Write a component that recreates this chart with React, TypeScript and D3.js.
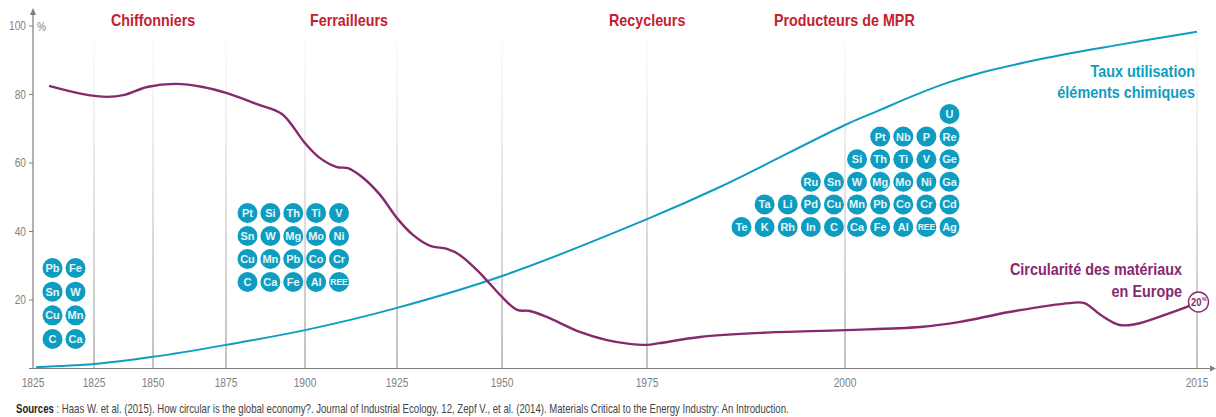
import React from "react";
import * as d3 from "d3";

const W = 1216, H = 417;

// Axis stops: the source's time axis is uneven and its first two ticks both read 1825
const tickYears = [1800, 1825, 1850, 1875, 1900, 1925, 1950, 1975, 2000, 2015];
const tickLabels = ["1825", "1825", "1850", "1875", "1900", "1925", "1950", "1975", "2000", "2015"];
const tickPixels = [33, 94, 153, 226, 305, 397, 502, 647, 845, 1197];
const yTicks = [20, 40, 60, 80, 100];

const circYears = [1806.6, 1820.5, 1830.5, 1838, 1847.5, 1858, 1867, 1875.3, 1884.8, 1892.7, 1900, 1904, 1908.7, 1911.7, 1915.5, 1920.4, 1925, 1928.8, 1932.9, 1936.9, 1940, 1944, 1946.7, 1950, 1952.6, 1954.8, 1957.8, 1963.4, 1968.1, 1972, 1975, 1976.6, 1981.7, 1989.3, 2000, 2003.2, 2004.9, 2007, 2009.6, 2010.2, 2010.9, 2011.7, 2012.4, 2013.6, 2015];
const circValues = [82.5, 80.1, 79.3, 79.9, 82.2, 83.1, 82.2, 80.4, 77.2, 74.3, 65.8, 61.5, 58.8, 58.5, 55.9, 50.7, 43.9, 39, 35.8, 34.9, 33.1, 28.8, 25.3, 20.9, 17.1, 16.8, 15, 10.7, 8.3, 7.2, 6.9, 7.4, 9.2, 10.4, 11.2, 12.1, 13.6, 16.5, 19.1, 19.1, 15.6, 12.7, 13, 15.6, 19.1];

const useYears = [1801.2, 1825, 1850, 1875, 1900, 1925, 1950, 1975, 1984.2, 2000, 2001.5, 2002.9, 2004.35, 2005.75, 2008.6, 2011.4, 2015];
const useValues = [0.4, 1.3, 3.4, 6.9, 11.2, 17.7, 27, 43.6, 53, 71.1, 75.5, 79.6, 83.4, 86.3, 90.7, 94.2, 98.3];

const groupA = [["Pb", "Fe"], ["Sn", "W"], ["Cu", "Mn"], ["C", "Ca"]];
const groupB = [
  ["Pt", "Si", "Th", "Ti", "V"],
  ["Sn", "W", "Mg", "Mo", "Ni"],
  ["Cu", "Mn", "Pb", "Co", "Cr"],
  ["C", "Ca", "Fe", "Al", "REE"],
];
const groupC = [
  ["", "", "", "", "", "", "", "", "", "U"],
  ["", "", "", "", "", "", "Pt", "Nb", "P", "Re"],
  ["", "", "", "", "", "Si", "Th", "Ti", "V", "Ge"],
  ["", "", "", "Ru", "Sn", "W", "Mg", "Mo", "Ni", "Ga"],
  ["", "Ta", "Li", "Pd", "Cu", "Mn", "Pb", "Co", "Cr", "Cd"],
  ["Te", "K", "Rh", "In", "C", "Ca", "Fe", "Al", "REE", "Ag"],
];

const FONT = "'Liberation Sans', Arial, sans-serif";
const TEAL = "#0e9dc0";
const PURPLE = "#86296e";
const RED = "#c3222f";
const GREY = "#7f7f7f";

const x = d3.scaleLinear().domain(tickYears).range(tickPixels);
const y = d3.scaleLinear().domain([0, 100]).range([368.5, 26]);

const line = d3.line<[number, number]>().x((d) => x(d[0])).y((d) => y(d[1])).curve(d3.curveCatmullRom.alpha(0.5));
const zip = (a: number[], b: number[]) => a.map((v, i) => [v, b[i]] as [number, number]);

function T({ x, y, sx = 0.85, anchor = "start", size = 12, weight = "normal", fill = GREY, children }: any) {
  return (
    <text transform={`translate(${x},${y}) scale(${sx},1)`} textAnchor={anchor} fontSize={size} fontWeight={weight} fill={fill} fontFamily={FONT}>
      {children}
    </text>
  );
}

function Group({ rows, x0, x1, y0, y1 }: { rows: string[][]; x0: number; x1: number; y0: number; y1: number }) {
  const cx = d3.scalePoint<number>().domain(d3.range(rows[0].length)).range([x0, x1]);
  const cy = d3.scalePoint<number>().domain(d3.range(rows.length)).range([y0, y1]);
  return (
    <g>
      {rows.map((r, i) =>
        r.map((el, j) =>
          el ? (
            <g key={`${i}-${j}`} transform={`translate(${cx(j)},${cy(i)})`}>
              <circle r={10} fill={TEAL} />
              <text y={el === "REE" ? 3.3 : 3.9} textAnchor="middle" fontFamily={FONT} fontWeight="bold" fontSize={el === "REE" ? 8.5 : 11} fill="#e6f5f9">
                {el}
              </text>
            </g>
          ) : null
        )
      )}
    </g>
  );
}

export default function App() {
  return (
    <svg width={W} height={H} viewBox={`0 0 ${W} ${H}`} style={{ position: "absolute", left: 0, top: 0, background: "#fff" }}>
      <defs>
        <linearGradient id="fade" gradientUnits="userSpaceOnUse" x1="0" x2="0" y1="25" y2="368">
          <stop offset="0" stopColor="#ffffff" />
          <stop offset="0.35" stopColor="#e4e4e4" />
          <stop offset="1" stopColor="#a6a6a6" />
        </linearGradient>
      </defs>

      {tickPixels.slice(1).map((_, i) => (
        <rect key={i} x={x(tickYears[i + 1]) - 0.7} y={25} width={1.4} height={343.5} fill="url(#fade)" />
      ))}

      {/* axes */}
      <line x1={33} x2={33} y1={12} y2={368.5} stroke={GREY} strokeWidth={1.2} />
      <path d="M33,8 L30,15 L36,15 Z" fill={GREY} />
      <line x1={29} x2={1212} y1={368.5} y2={368.5} stroke={GREY} strokeWidth={1.2} />
      <path d="M1216,368.5 L1210,365.5 L1210,371.5 Z" fill={GREY} />
      {yTicks.map((t) => (
        <g key={t}>
          <line x1={29} x2={33} y1={y(t)} y2={y(t)} stroke={GREY} />
          <T x={26} y={y(t) + 4} anchor="end">{t}</T>
        </g>
      ))}
      <T x={37} y={31}>%</T>
      {tickPixels.map((_, i) => (
        <T key={i} x={x(tickYears[i])} y={387} anchor="middle">{tickLabels[i]}</T>
      ))}

      {/* series */}
      <path d={line(zip(useYears, useValues)) || ""} fill="none" stroke={TEAL} strokeWidth={2} />
      <path d={line(zip(circYears, circValues)) || ""} fill="none" stroke={PURPLE} strokeWidth={2.4} />

      {/* element groups */}
      <Group rows={groupA} x0={52.5} x1={75.5} y0={268} y1={339} />
      <Group rows={groupB} x0={247.5} x1={339} y0={213} y1={282} />
      <Group rows={groupC} x0={741.5} x1={949.5} y0={114} y1={227} />

      {/* headers */}
      <T x={111} y={26} sx={0.895} size={16} weight="bold" fill={RED}>Chiffonniers</T>
      <T x={310} y={26} sx={0.895} size={16} weight="bold" fill={RED}>Ferrailleurs</T>
      <T x={609} y={26} sx={0.895} size={16} weight="bold" fill={RED}>Recycleurs</T>
      <T x={774} y={26} sx={0.895} size={16} weight="bold" fill={RED}>Producteurs de MPR</T>

      <T x={1195} y={77} sx={0.9} anchor="end" size={16} weight="bold" fill={TEAL}>Taux utilisation</T>
      <T x={1195} y={98} sx={0.9} anchor="end" size={16} weight="bold" fill={TEAL}>éléments chimiques</T>
      <T x={1182} y={275} sx={0.9} anchor="end" size={16} weight="bold" fill={PURPLE}>Circularité des matériaux</T>
      <T x={1182} y={297} sx={0.9} anchor="end" size={16} weight="bold" fill={PURPLE}>en Europe</T>

      {/* end badge */}
      <circle cx={1198.5} cy={302} r={10} fill="#fff" stroke={PURPLE} strokeWidth={1.4} />
      <T x={1191} y={306} sx={0.85} size={11} weight="bold" fill={PURPLE}>20</T>
      <T x={1202} y={301} sx={0.85} size={6} weight="bold" fill={PURPLE}>%</T>

      {/* source */}
      <text transform="translate(16,413) scale(0.8,1)" fontSize={12} fontFamily={FONT} fill="#444">
        <tspan fontWeight="bold" fill="#222">Sources</tspan>
        {" : Haas W. et al. (2015). How circular is the global economy?. Journal of Industrial Ecology, 12, Zepf V., et al. (2014). Materials Critical to the Energy Industry: An Introduction."}
      </text>
    </svg>
  );
}
